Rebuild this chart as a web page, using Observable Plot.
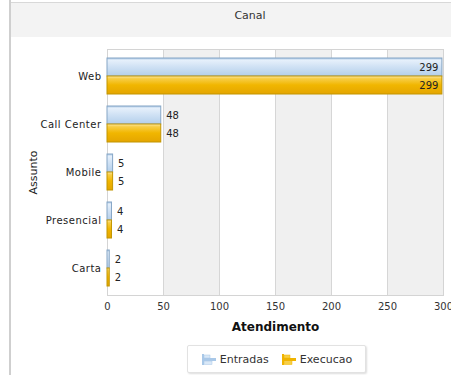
<!DOCTYPE html>
<html>
<head>
<meta charset="utf-8">
<script src="https://cdn.jsdelivr.net/npm/d3@7"></script>
<script src="https://cdn.jsdelivr.net/npm/@observablehq/plot@0.6"></script>
<style>
  html, body { margin: 0; padding: 0; background: #fff; }
  #wrap { position: relative; width: 451px; height: 375px; overflow: hidden; font-family: "DejaVu Sans", sans-serif; }
  #leftborder { position: absolute; left: 9px; top: 0; width: 2px; height: 375px; background: #cfcfcf; }
  #topband { position: absolute; left: 11px; top: 2px; width: 440px; height: 34px; background: #f3f3f3; border-top: 1px solid #d8d8d8; }
  #title { position: absolute; left: 200px; width: 100px; top: 9px; text-align: center; font-size: 11px; color: #333; }
  #chart { position: absolute; left: 0; top: 0; }
  #legend { position: absolute; left: 187px; top: 345px; width: 177px; height: 26px; border: 1px solid #e2e2e2; border-radius: 2px; box-shadow: 1px 1px 2px #ddd; background: #fff; display: flex; align-items: center; justify-content: center; gap: 12px; font-size: 11px; color: #333; }
  .item { display: flex; align-items: center; gap: 3px; }
</style>
</head>
<body>
<div id="wrap">
  <div id="topband"></div>
  <div id="leftborder"></div>
  <div id="title">Canal</div>
  <div id="chart"></div>
  <div id="legend"></div>
</div>
<script>
const categories = ["Web", "Call Center", "Mobile", "Presencial", "Carta"];
const series = ["Entradas", "Execucao"];
const entradas = [299, 48, 5, 4, 2];
const execucao = [299, 48, 5, 4, 2];
const xTicks = [0, 50, 100, 150, 200, 250, 300];
const shadeBands = [[50, 100], [150, 200], [250, 300]];
const xLabel = "Atendimento";
const yLabel = "Assunto";

const rows = [];
categories.forEach((c, i) => {
  rows.push({Assunto: c, serie: series[0], value: entradas[i]});
  rows.push({Assunto: c, serie: series[1], value: execucao[i]});
});
const bands = shadeBands.map(([a, b]) => ({a, b}));

function build(bw) {
  const ent = rows.filter(d => d.serie === series[0]);
  const exe = rows.filter(d => d.serie === series[1]);
  const inside = d => d.value > 250;
  return Plot.plot({
    width: 451,
    height: 340,
    marginTop: 49,
    marginBottom: 45,
    marginLeft: 107,
    marginRight: 8,
    style: {background: "transparent", fontFamily: "DejaVu Sans, sans-serif", fontSize: "10px", color: "#222"},
    x: {domain: [0, 300], ticks: xTicks, label: null},
    y: {domain: categories, paddingInner: 0.25, paddingOuter: 0.15, label: null},
    marks: [
      Plot.rect(bands, {x1: "a", x2: "b", fill: "#f0f0f0"}),
      Plot.ruleX(xTicks.slice(1), {stroke: "#d6d6d6", strokeWidth: 1}),
      Plot.frame({stroke: "#d4d4d4"}),
      Plot.barX(ent, {y: "Assunto", x: "value", insetBottom: bw / 2, fill: "url(#gBlue)", stroke: "#86a6c6", strokeWidth: 1}),
      Plot.barX(exe, {y: "Assunto", x: "value", insetTop: bw / 2, fill: "url(#gGold)", stroke: "#c29500", strokeWidth: 1}),
      Plot.text(ent.filter(inside), {y: "Assunto", x: "value", text: "value", dy: -bw / 4, dx: -4, textAnchor: "end", fill: "#222", fontSize: 10}),
      Plot.text(exe.filter(inside), {y: "Assunto", x: "value", text: "value", dy: bw / 4, dx: -4, textAnchor: "end", fill: "#222", fontSize: 10}),
      Plot.text(ent.filter(d => !inside(d)), {y: "Assunto", x: "value", text: "value", dy: -bw / 4, dx: 5, textAnchor: "start", fill: "#222", fontSize: 10}),
      Plot.text(exe.filter(d => !inside(d)), {y: "Assunto", x: "value", text: "value", dy: bw / 4, dx: 5, textAnchor: "start", fill: "#222", fontSize: 10}),
      Plot.axisX({ticks: xTicks, tickSize: 0, tickPadding: 7, label: xLabel, labelArrow: "none", labelAnchor: "center", labelOffset: 35, fontSize: 10}),
      Plot.axisY({tickSize: 0, tickPadding: 6, label: yLabel, labelArrow: "none", labelAnchor: "center", labelOffset: 78, fontSize: 10})
    ]
  });
}

let plot = build(36);
const bw = plot.scale("y").bandwidth;
plot = build(bw);

// gradients for bar fills
const svg = d3.select(plot);
const defs = svg.insert("defs", ":first-child");
const gb = defs.append("linearGradient").attr("id", "gBlue").attr("x1", 0).attr("y1", 0).attr("x2", 0).attr("y2", 1);
[[0, "#a8c6e4"], [0.12, "#e6f0fb"], [0.5, "#cfe1f4"], [1, "#b3cfeb"]].forEach(([o, c]) => gb.append("stop").attr("offset", o).attr("stop-color", c));
const gg = defs.append("linearGradient").attr("id", "gGold").attr("x1", 0).attr("y1", 0).attr("x2", 0).attr("y2", 1);
[[0, "#fbe7a4"], [0.15, "#f7cd45"], [0.5, "#f1b600"], [1, "#e4a500"]].forEach(([o, c]) => gg.append("stop").attr("offset", o).attr("stop-color", c));

// axis label styling (ensure plain labels without arrows)
svg.selectAll("[aria-label='x-axis label'] text").text(xLabel).attr("font-weight", "bold").attr("font-size", 12).attr("fill", "#111");
svg.selectAll("[aria-label='y-axis label'] text").text(yLabel).attr("font-size", 11).attr("fill", "#222");
svg.selectAll("[aria-label='y-axis tick label'] text").attr("letter-spacing", "0.5px");
svg.selectAll("[aria-label='x-axis tick label'] text").attr("fill", "#333");

document.getElementById("chart").appendChild(plot);

// legend
const legendColors = {Entradas: ["#a9c8e8", "#d9e8f7"], Execucao: ["#f0b400", "#f7cf45"]};
const legend = document.getElementById("legend");
series.forEach(s => {
  const [c1, c2] = legendColors[s];
  const item = document.createElement("div");
  item.className = "item";
  item.innerHTML = `<svg width="16" height="13"><rect x="1" y="1" width="2" height="11" fill="${c1}"/><rect x="3" y="2" width="6" height="3" fill="${c2}" stroke="${c1}" stroke-width="0.5"/><rect x="3" y="5" width="12" height="3" fill="${c1}"/><rect x="3" y="8.5" width="8" height="3" fill="${c2}" stroke="${c1}" stroke-width="0.5"/></svg><span>${s}</span>`;
  legend.appendChild(item);
});
</script>
</body>
</html>
